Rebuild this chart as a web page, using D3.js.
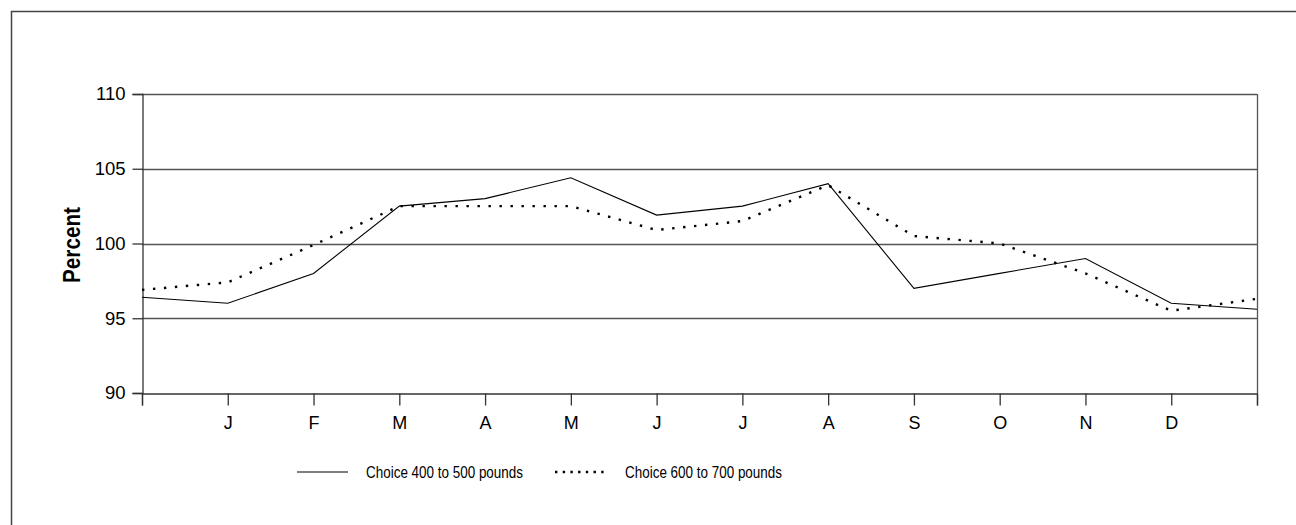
<!DOCTYPE html>
<html>
<head>
<meta charset="utf-8">
<script src="https://cdn.jsdelivr.net/npm/d3@7/dist/d3.min.js"></script>
<style>
  html, body { margin: 0; padding: 0; background: #fff; }
  svg { display: block; }
  text { font-family: "Liberation Sans", Arial, sans-serif; fill: #000; }
</style>
</head>
<body>
<svg id="chart" width="1296" height="525"></svg>
<script>
// Month positions: one point before January and one after December
const monthLabels = ["", "J", "F", "M", "A", "M", "J", "J", "A", "S", "O", "N", "D", ""];
const choice400to500 = [96.4, 96.0, 98.0, 102.5, 103.0, 104.4, 101.9, 102.5, 104.0, 97.0, 98.0, 99.0, 96.0, 95.6];
const choice600to700 = [96.9, 97.4, 99.9, 102.5, 102.5, 102.5, 100.9, 101.5, 103.9, 100.5, 100.0, 98.0, 95.5, 96.3];
const yTicks = [90, 95, 100, 105, 110];
const seriesNames = ["Choice 400 to 500 pounds", "Choice 600 to 700 pounds"];

const svg = d3.select("#chart");
const plotLeft = 142, plotRight = 1257, plotTop = 94, plotBottom = 393;

const x = d3.scaleLinear().domain([0, monthLabels.length - 1]).range([plotLeft, plotRight]);
const y = d3.scaleLinear().domain([90, 110]).range([plotBottom, plotTop]);

// outer frame (only its top and left edges fall inside the page)
svg.append("path")
  .attr("d", `M11.5,525 L11.5,11.5 L1296,11.5`)
  .attr("fill", "none").attr("stroke", "#444").attr("stroke-width", 1.5);

// horizontal gridlines
svg.append("g").selectAll("line")
  .data(yTicks.filter(d => d > 90))
  .join("line")
  .attr("x1", plotLeft).attr("x2", plotRight)
  .attr("y1", d => Math.round(y(d)) + 0.5).attr("y2", d => Math.round(y(d)) + 0.5)
  .attr("stroke", "#555").attr("stroke-width", 1.3);

// right border of the plot
svg.append("line")
  .attr("x1", plotRight + 0.5).attr("x2", plotRight + 0.5)
  .attr("y1", plotTop).attr("y2", plotBottom)
  .attr("stroke", "#555").attr("stroke-width", 1.3);

// y axis
const yAxis = d3.axisLeft(y).tickValues(yTicks).tickSize(10).tickPadding(7).tickFormat(d3.format("d"));
const gy = svg.append("g").attr("transform", `translate(${plotLeft + 0.5},0)`).call(yAxis);
gy.attr("font-size", null).attr("font-family", null);
gy.select(".domain").attr("stroke", "#333").attr("stroke-width", 1.3);
gy.selectAll(".tick line").attr("stroke", "#333").attr("stroke-width", 1.3);
gy.selectAll(".tick text")
  .style("font-size", "18.5px").attr("fill", "#000");

// x axis
const xAxis = d3.axisBottom(x).tickValues(d3.range(monthLabels.length))
  .tickSize(12).tickPadding(11).tickFormat(i => monthLabels[i]);
const gx = svg.append("g").attr("transform", `translate(0,${plotBottom + 0.5})`).call(xAxis);
gx.attr("font-size", null).attr("font-family", null);
gx.select(".domain").attr("stroke", "#333").attr("stroke-width", 1.3);
gx.selectAll(".tick line").attr("stroke", "#333").attr("stroke-width", 1.3);
gx.selectAll(".tick text")
  .style("font-size", "18px").attr("fill", "#000");

// y axis title
svg.append("text")
  .attr("transform", "translate(80,245) rotate(-90)")
  .attr("text-anchor", "middle")
  .attr("textLength", 76).attr("lengthAdjust", "spacingAndGlyphs")
  .style("font-size", "24px").style("font-weight", "bold")
  .text("Percent");

const line = d3.line().x((d, i) => x(i)).y(d => y(d));

svg.append("path").datum(choice400to500)
  .attr("d", line).attr("fill", "none")
  .attr("stroke", "#000").attr("stroke-width", 1.1);

svg.append("path").datum(choice600to700)
  .attr("d", line).attr("fill", "none")
  .attr("stroke", "#000").attr("stroke-width", 2.4)
  .attr("stroke-dasharray", "2.4,8.6");

// legend
const legendY = 472;
svg.append("line").attr("x1", 297).attr("x2", 348).attr("y1", legendY).attr("y2", legendY)
  .attr("stroke", "#555").attr("stroke-width", 1.3);
svg.append("text").attr("x", 366).attr("y", legendY + 6)
  .attr("textLength", 157).attr("lengthAdjust", "spacingAndGlyphs")
  .style("font-size", "16.5px").text(seriesNames[0]);

svg.append("line").attr("x1", 555).attr("x2", 606).attr("y1", legendY).attr("y2", legendY)
  .attr("stroke", "#000").attr("stroke-width", 2.4)
  .attr("stroke-dasharray", "2.4,5.3");
svg.append("text").attr("x", 625).attr("y", legendY + 6)
  .attr("textLength", 157).attr("lengthAdjust", "spacingAndGlyphs")
  .style("font-size", "16.5px").text(seriesNames[1]);
</script>
</body>
</html>
